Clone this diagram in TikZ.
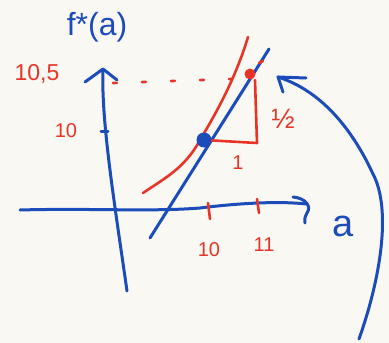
\documentclass[tikz,border=0pt]{standalone}
\usepackage{fontspec}
\setmainfont{Liberation Sans}
\begin{document}
\begin{tikzpicture}[x=1pt,y=-1pt,
  blueink/.style={draw=inkblue,line width=3pt,line cap=round,line join=round},
  redink/.style={draw=inkred,line width=2.6pt,line cap=round,line join=round},
  bluelab/.style={text=inkblue,inner sep=0pt},
  redlab/.style={text=inkred,inner sep=0pt}]
\definecolor{inkblue}{RGB}{28,76,186}
\definecolor{inkred}{RGB}{232,52,38}
\definecolor{paper}{RGB}{250,248,243}
\fill[paper] (0,0) rectangle (389,343);
\useasboundingbox (0,0) rectangle (389,343);
% axes
\coordinate (ytop) at (103,69);
\coordinate (ybot) at (127,291);
\coordinate (xl) at (20,210);
\coordinate (xr) at (306,204);
\draw[blueink] (ybot) .. controls (114,200) and (101,120) .. (ytop);
\draw[blueink] (85,82) -- (ytop) -- (117,80);
\draw[blueink] (101,131) -- (108,131);
\draw[blueink] (xl) .. controls (90,208) and (150,212) .. (200,208) .. controls (240,203) and (280,201) .. (xr);
\draw[blueink] (293,197) .. controls (305,198) and (312,206) .. (307,213) .. controls (305,217) and (304,220) .. (305,223);
% red ticks
\draw[redink] (208,203) -- (210,219);
\draw[redink] (257,199) -- (259,213);
% labels
\node[bluelab,font=\fontsize{32}{32}\selectfont] (fa) at (97,27) {f*(a)};
\node[bluelab,font=\fontsize{38}{38}\selectfont] (alab) at (343,226) {a};
\node[redlab,font=\fontsize{23}{23}\selectfont] (l105) at (37,74) {10,5};
\node[redlab,font=\fontsize{20}{20}\selectfont] (l10y) at (66,131) {10};
\node[redlab,font=\fontsize{20}{20}\selectfont] (l10x) at (209,250) {10};
\node[redlab,font=\fontsize{20}{20}\selectfont] (l11x) at (264,245) {11};
\node[redlab,font=\fontsize{20}{20}\selectfont] (lone) at (238,163) {1};
\node[redlab,font=\fontsize{28}{28}\selectfont] (lhalf) at (283,119) {½};
% dashed level line
\coordinate (dl) at (113,83);
\coordinate (dr) at (232,79);
\draw[redink,dash pattern=on 4pt off 25pt] (dl) -- (dr);
% red curve
\draw[redink] (143,193) .. controls (165,178) and (185,168) .. (200,140) .. controls (215,115) and (235,80) .. (248,37);
% blue tangent
\coordinate (tA) at (150,238);
\coordinate (tB) at (269,49);
\draw[blueink] (tA) -- (tB);
% triangle
\coordinate (p0) at (204,140);
\coordinate (pc) at (257,143);
\coordinate (p1) at (250,74);
\draw[redink] (p0) -- (pc) -- (255,80);
\fill[inkblue] (p0) circle (7.5);
\fill[inkred] (p1) circle (5.5);
\draw[redink] (259,63) -- (263,61);
% curved arrow
\coordinate (ctip) at (278,77);
\coordinate (cbot) at (359,339);
\draw[blueink] (cbot) .. controls (380,280) and (392,210) .. (373,174) .. controls (355,135) and (325,92) .. (ctip);
\draw[blueink] (306,78) -- (ctip) -- (283,92);
\end{tikzpicture}
\end{document}
